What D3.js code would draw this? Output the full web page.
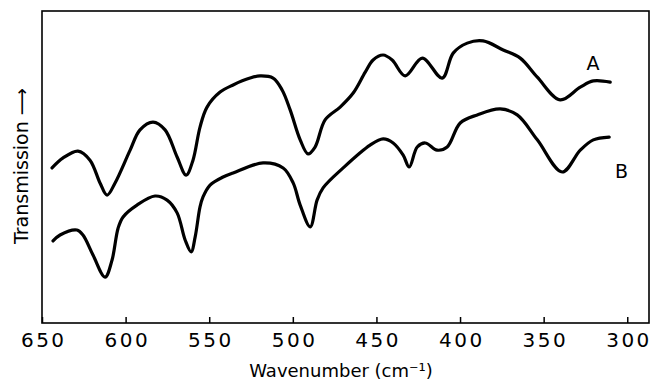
<!DOCTYPE html>
<html>
<head>
<meta charset="utf-8">
<script src="https://cdn.jsdelivr.net/npm/d3@7"></script>
<style>
  body { margin: 0; background: #fff; }
  .tick text { font-family: "DejaVu Sans", sans-serif; font-size: 20px; letter-spacing: 2.5px; }
  .lbl { font-family: "DejaVu Sans", sans-serif; fill: #000; }
</style>
</head>
<body>
<div class="chart"></div>
<script>
// spectrum A (upper trace): wavenumber, transmission (arbitrary units)
var wnA = [644, 637.4, 628.5, 621.3, 615.3, 611.1, 606.3, 597.3, 591.4, 583.6, 576.4, 569.2, 563.8, 559.7,
  555.5, 551.3, 543.5, 535.7, 525.6, 519.6, 511.8, 506.4, 501.6, 495.6, 490.9, 486.7, 480.7, 471.7, 463.9,
  456.7, 452, 446, 440.6, 432.8, 422.6, 410.7, 404.1, 395.7, 386.2, 374.2, 364, 353.8, 340.1, 328.1, 320.3, 310.2];
var trA = [49.7, 52.9, 55.1, 52.2, 44.9, 41.0, 44.9, 55.4, 61.9, 64.4, 61.9, 53.2, 47.4, 52.2,
  62.8, 69.2, 74.0, 76.3, 78.5, 79.2, 78.5, 74.7, 68.3, 58.7, 54.2, 56.4, 65.1, 69.2, 73.7,
  80.4, 84.3, 85.9, 84.3, 79.2, 84.9, 78.5, 86.5, 89.7, 90.4, 87.5, 84.9, 78.8, 71.5, 75.6, 77.6, 77.2];

// spectrum B (lower trace)
var wnB = [643.4, 639.2, 629.1, 625.5, 619.5, 612.3, 608.1, 604.5, 601.5, 593.2, 582.4, 575.2, 569.2, 564.4,
  560.8, 558.4, 555.5, 553.7, 549.5, 541.7, 535.7, 517.8, 505.8, 499.8, 495.6, 489.6, 485.5, 481.9, 469.9,
  453.8, 446, 440, 434, 430.4, 425.6, 420.8, 413.7, 407.7, 399.9, 389.7, 376, 365.8, 353.8, 338.9, 328.1, 320.3, 310.8];
var trB = [26.3, 28.2, 29.8, 28.2, 21.8, 14.7, 20.2, 30.4, 34.0, 37.8, 40.7, 39.4, 35.3, 26.6,
  22.8, 27.6, 37.2, 40.4, 44.2, 46.8, 48.1, 51.3, 49.7, 44.9, 37.8, 30.8, 39.4, 43.3, 49.7,
  57.0, 59.0, 57.7, 53.8, 50.0, 56.4, 57.7, 55.4, 56.4, 64.1, 66.7, 68.6, 66.7, 58.7, 48.4, 55.4, 58.7, 59.6];

var xTicks = [650, 600, 550, 500, 450, 400, 350, 300];

var svgWidth = 654, svgHeight = 380;
var margin = { top: 11, right: 5, bottom: 57, left: 42 };
var chartWidth = svgWidth - margin.left - margin.right;
var chartHeight = svgHeight - margin.top - margin.bottom;

var svg = d3.select(".chart").append("svg")
  .attr("width", svgWidth)
  .attr("height", svgHeight);

var chartGroup = svg.append("g")
  .attr("transform", `translate(${margin.left}, ${margin.top})`);

var xScale = d3.scaleLinear().domain([650, 287]).range([0, chartWidth]);
var yScale = d3.scaleLinear().domain([0, 100]).range([chartHeight, 0]);

// frame
chartGroup.append("rect")
  .attr("width", chartWidth)
  .attr("height", chartHeight)
  .attr("fill", "none")
  .attr("stroke", "#000")
  .attr("stroke-width", 1.6);

// x axis, ticks pointing inward
var xAxis = d3.axisBottom(xScale)
  .tickValues(xTicks)
  .tickSizeInner(-6)
  .tickSizeOuter(0)
  .tickPadding(10);

var xg = chartGroup.append("g")
  .attr("transform", `translate(0, ${chartHeight})`)
  .call(xAxis);
xg.select(".domain").remove();
xg.selectAll(".tick line").attr("stroke", "#000").attr("stroke-width", 1.5);
xg.selectAll(".tick text").attr("fill", "#000").attr("dx", "1.25px");

// traces
var line = d3.line()
  .x(d => xScale(d[0]))
  .y(d => yScale(d[1]))
  .curve(d3.curveCatmullRom.alpha(0.5));

[[wnA, trA], [wnB, trB]].forEach(function (s) {
  chartGroup.append("path")
    .datum(d3.zip(s[0], s[1]))
    .attr("d", line)
    .attr("fill", "none")
    .attr("stroke", "#000")
    .attr("stroke-width", 3.2)
    .attr("stroke-linejoin", "round")
    .attr("stroke-linecap", "round");
});

// trace labels
chartGroup.append("text").attr("class", "lbl")
  .attr("x", xScale(320.5)).attr("y", yScale(83.3))
  .attr("text-anchor", "middle").attr("dy", "0.36em")
  .style("font-size", "19px").text("A");
chartGroup.append("text").attr("class", "lbl")
  .attr("x", xScale(303.5)).attr("y", yScale(48.7))
  .attr("text-anchor", "middle").attr("dy", "0.36em")
  .style("font-size", "19px").text("B");

// axis titles
svg.append("text").attr("class", "lbl")
  .attr("x", 341)
  .attr("y", 377)
  .attr("text-anchor", "middle")
  .style("font-size", "18px")
  .text("Wavenumber (cm\u207B\u00B9)");

svg.append("text").attr("class", "lbl")
  .attr("transform", "rotate(-90)")
  .attr("x", -166)
  .attr("y", 28)
  .attr("text-anchor", "middle")
  .style("font-size", "19px")
  .text("Transmission \u27F6");
</script>
</body>
</html>
